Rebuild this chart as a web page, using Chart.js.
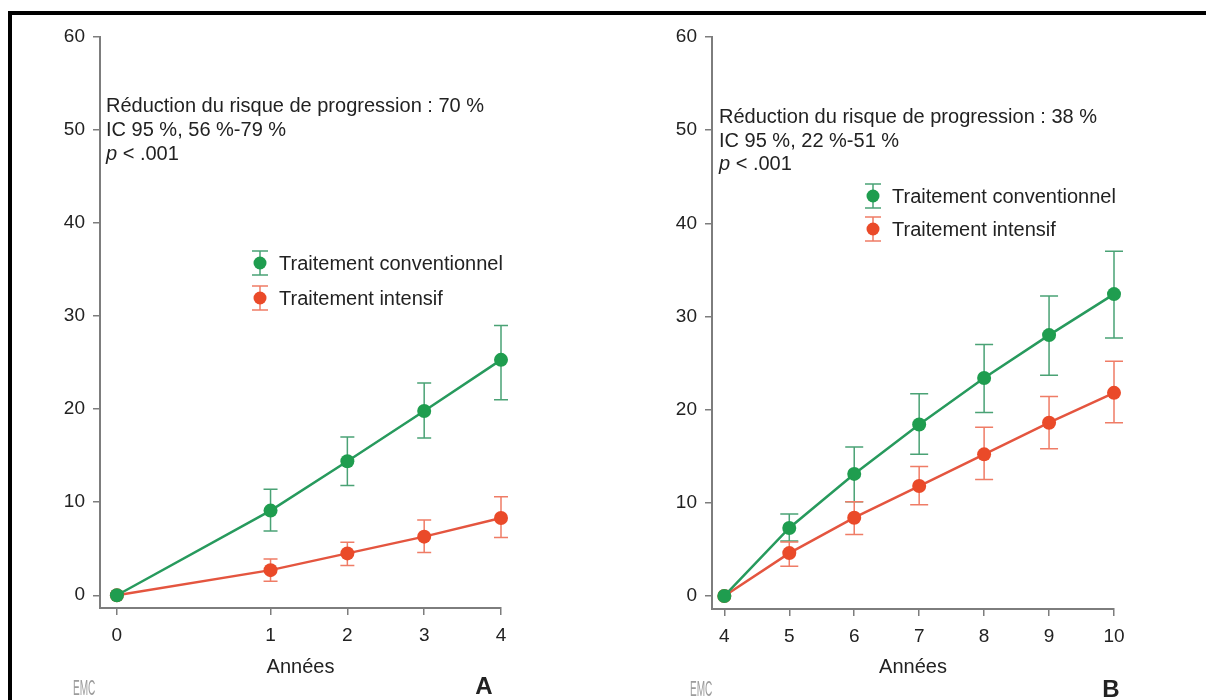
<!DOCTYPE html>
<html lang="fr">
<head>
<meta charset="utf-8">
<title>Progression : traitement conventionnel vs intensif</title>
<script src="https://cdn.jsdelivr.net/npm/chart.js@4/dist/chart.umd.min.js"></script>
<style>
  html, body { margin: 0; padding: 0; background: #fff; }
  #page { position: relative; width: 1206px; height: 700px; overflow: hidden; background: #fff; }
  .panel { position: absolute; top: 0; height: 700px; }
  #panelA { left: 0; width: 600px; }
  #panelB { left: 600px; width: 606px; }
  #frame { position: absolute; left: 8px; top: 11px; right: 0; bottom: 0;
           border-top: 4px solid #000; border-left: 4px solid #000; pointer-events: none; }
</style>
</head>
<body>
<div id="page">
  <div class="panel" id="panelA"><canvas id="chartA"></canvas></div>
  <div class="panel" id="panelB"><canvas id="chartB"></canvas></div>
  <div id="frame"></div>
</div>
<script>
// Panel A : années 0 à 4 (l'intervalle 0-1 est élargi sur l'axe)
var axisLabelsA = ['0', '', '1', '2', '3', '4'];
var yearsA = ['0', '1', '2', '3', '4'];
var convA = [0, 9.1, 14.4, 19.8, 25.3];
var convLowA = [0, 6.9, 11.8, 16.9, 21.0];
var convHighA = [0, 11.4, 17.0, 22.8, 29.0];
var intA = [0, 2.7, 4.5, 6.3, 8.3];
var intLowA = [0, 1.5, 3.2, 4.6, 6.2];
var intHighA = [0, 3.9, 5.7, 8.1, 10.6];

// Panel B : années 4 à 10
var axisLabelsB = ['4', '5', '6', '7', '8', '9', '10'];
var yearsB = ['4', '5', '6', '7', '8', '9', '10'];
var convB = [0, 7.3, 13.1, 18.4, 23.4, 28.0, 32.4];
var convLowB = [0, 5.9, 10.1, 15.2, 19.7, 23.7, 27.7];
var convHighB = [0, 8.8, 16.0, 21.7, 27.0, 32.2, 37.0];
var intB = [0, 4.6, 8.4, 11.8, 15.2, 18.6, 21.8];
var intLowB = [0, 3.2, 6.6, 9.8, 12.5, 15.8, 18.6];
var intHighB = [0, 5.8, 10.1, 13.9, 18.1, 21.4, 25.2];

var yTicks = [0, 10, 20, 30, 40, 50, 60];
var seriesNames = ['Traitement conventionnel', 'Traitement intensif'];

var FONT = "'Liberation Sans', Arial, Helvetica, sans-serif";
var textColor = '#222222';
var axisColor = '#7d7d7d';
var greenLine = '#279a5d', greenDot = '#1f9d4f', greenBar = '#4aa275';
var redLine = '#e4553f', redDot = '#ea4a29', redBar = '#ef7c66';

Chart.defaults.font.family = FONT;
Chart.defaults.color = textColor;

function points(years, values) {
    return years.map(function (year, i) {
        return {x: year, y: values[i]};
    });
}

// error bars, notes, legend and panel letter
function makeDecor(cfg) {
    return {
        id: 'decor',
        beforeDatasetsDraw: function (chart) {
            var ctx = chart.ctx;
            var yScale = chart.scales.y;
            chart.data.datasets.forEach(function (ds, i) {
                var meta = chart.getDatasetMeta(i);
                ctx.save();
                ctx.strokeStyle = ds.errorColor;
                ctx.lineWidth = 1.5;
                meta.data.forEach(function (pt, j) {
                    var lo = ds.errorLow[j], hi = ds.errorHigh[j];
                    if (lo === hi) return;
                    var yLo = yScale.getPixelForValue(lo);
                    var yHi = yScale.getPixelForValue(hi);
                    ctx.beginPath();
                    ctx.moveTo(pt.x, yLo); ctx.lineTo(pt.x, yHi);
                    ctx.moveTo(pt.x - cfg.cap, yLo); ctx.lineTo(pt.x + cfg.cap, yLo);
                    ctx.moveTo(pt.x - cfg.cap, yHi); ctx.lineTo(pt.x + cfg.cap, yHi);
                    ctx.stroke();
                });
                ctx.restore();
            });
        },
        afterDraw: function (chart) {
            var ctx = chart.ctx;
            var area = chart.chartArea;
            ctx.save();
            ctx.fillStyle = textColor;
            ctx.textAlign = 'left';
            ctx.textBaseline = 'alphabetic';

            var nx = area.left + cfg.noteX;
            var ny = area.top + cfg.noteY;
            ctx.font = '20px ' + FONT;
            cfg.note.forEach(function (line, k) {
                ctx.fillText(line, nx, ny + k * cfg.noteGap);
            });
            var py = ny + cfg.note.length * cfg.noteGap;
            ctx.font = 'italic 20px ' + FONT;
            ctx.fillText('p', nx, py);
            var pw = ctx.measureText('p').width;
            ctx.font = '20px ' + FONT;
            ctx.fillText(' < ' + cfg.pValue, nx + pw, py);

            // legend
            chart.data.datasets.forEach(function (ds, i) {
                var lx = area.left + cfg.legendX;
                var ly = area.top + cfg.legendY + i * cfg.legendGap;
                ctx.strokeStyle = ds.errorColor;
                ctx.lineWidth = 1.5;
                ctx.beginPath();
                ctx.moveTo(lx, ly - 12); ctx.lineTo(lx, ly + 12);
                ctx.moveTo(lx - 8, ly - 12); ctx.lineTo(lx + 8, ly - 12);
                ctx.moveTo(lx - 8, ly + 12); ctx.lineTo(lx + 8, ly + 12);
                ctx.stroke();
                ctx.fillStyle = ds.pointBackgroundColor;
                ctx.beginPath();
                ctx.arc(lx, ly, 6.5, 0, Math.PI * 2);
                ctx.fill();
                ctx.fillStyle = textColor;
                ctx.textBaseline = 'middle';
                ctx.font = '20px ' + FONT;
                ctx.fillText(ds.label, lx + 19, ly + 1);
            });

            // panel letter
            ctx.textAlign = 'center';
            ctx.textBaseline = 'alphabetic';
            ctx.font = 'bold 24px ' + FONT;
            ctx.fillText(cfg.letter, area.right + cfg.letterX, cfg.letterY);

            // publisher mark
            ctx.textAlign = 'left';
            ctx.fillStyle = '#9c9c9c';
            ctx.translate(cfg.logoX, cfg.logoY);
            ctx.scale(0.72, 1.6);
            ctx.font = '14px ' + FONT;
            ctx.fillText('EMC', 0, 0);
            ctx.restore();
        }
    };
}

function buildChart(canvasId, p) {
    var labels = p.axisLabels;
    return new Chart(document.getElementById(canvasId), {
        type: 'line',
        data: {
            labels: labels,
            datasets: [{
                label: seriesNames[0],
                data: points(p.years, p.conv),
                errorLow: p.convLow,
                errorHigh: p.convHigh,
                errorColor: greenBar,
                borderColor: greenLine,
                borderWidth: 2.5,
                pointBackgroundColor: greenDot,
                pointBorderWidth: 0,
                pointRadius: 7,
                fill: false,
                tension: 0
            }, {
                label: seriesNames[1],
                data: points(p.years, p.int),
                errorLow: p.intLow,
                errorHigh: p.intHigh,
                errorColor: redBar,
                borderColor: redLine,
                borderWidth: 2.5,
                pointBackgroundColor: redDot,
                pointBorderWidth: 0,
                pointRadius: 7,
                fill: false,
                tension: 0
            }]
        },
        options: {
            responsive: true,
            maintainAspectRatio: false,
            animation: false,
            events: [],
            layout: {
                padding: {left: p.padLeft, right: p.padRight, top: p.padTop, bottom: 0}
            },
            plugins: {
                legend: {display: false},
                tooltip: {enabled: false}
            },
            scales: {
                x: {
                    type: 'category',
                    offset: false,
                    afterBuildTicks: function (scale) {
                        // leave a little room between the y axis and the first year
                        scale._startValue -= p.lead;
                        scale._valueRange += p.lead;
                        scale.ticks = scale.ticks.filter(function (t) {
                            return labels[t.value] !== '';
                        });
                    },
                    afterFit: function (scale) {
                        scale.height = p.xHeight;
                    },
                    border: {display: true, color: axisColor, width: 2},
                    grid: {drawOnChartArea: false, color: axisColor, tickColor: axisColor, tickLength: 7, lineWidth: 1.5},
                    ticks: {color: textColor, font: {size: 19}, padding: 9, autoSkip: false, maxRotation: 0},
                    title: {
                        display: true,
                        text: 'Années',
                        color: textColor,
                        font: {size: 20},
                        padding: {top: 0, bottom: 21}
                    }
                },
                y: {
                    min: p.yMin,
                    max: 60,
                    afterBuildTicks: function (scale) {
                        scale.ticks = yTicks.map(function (v) { return {value: v}; });
                    },
                    afterFit: function (scale) {
                        scale.width = 40;
                    },
                    border: {display: true, color: axisColor, width: 2},
                    grid: {drawOnChartArea: false, color: axisColor, tickColor: axisColor, tickLength: 7, lineWidth: 1.5},
                    ticks: {color: textColor, font: {size: 19}, padding: 8}
                }
            }
        },
        plugins: [makeDecor(p.decor)]
    });
}

buildChart('chartA', {
    axisLabels: axisLabelsA, years: yearsA,
    conv: convA, convLow: convLowA, convHigh: convHighA,
    int: intA, intLow: intLowA, intHigh: intHighA,
    lead: 0.22, yMin: -1.37,
    padLeft: 60, padRight: 99, padTop: 37, xHeight: 92,
    decor: {
        cap: 7,
        note: ['Réduction du risque de progression : 70 %', 'IC 95 %, 56 %-79 %'],
        pValue: '.001',
        noteX: 6, noteY: 75, noteGap: 24,
        legendX: 160, legendY: 226, legendGap: 35,
        letter: 'A', letterX: -17, letterY: 694,
        logoX: 73, logoY: 695
    }
});

buildChart('chartB', {
    axisLabels: axisLabelsB, years: yearsB,
    conv: convB, convLow: convLowB, convHigh: convHighB,
    int: intB, intLow: intLowB, intHigh: intHighB,
    lead: 0.19, yMin: -1.4,
    padLeft: 72, padRight: 92, padTop: 37, xHeight: 91,
    decor: {
        cap: 9,
        note: ['Réduction du risque de progression : 38 %', 'IC 95 %, 22 %-51 %'],
        pValue: '.001',
        noteX: 7, noteY: 86, noteGap: 23.5,
        legendX: 161, legendY: 159, legendGap: 33,
        letter: 'B', letterX: -3, letterY: 697,
        logoX: 90, logoY: 696
    }
});
</script>
</body>
</html>
